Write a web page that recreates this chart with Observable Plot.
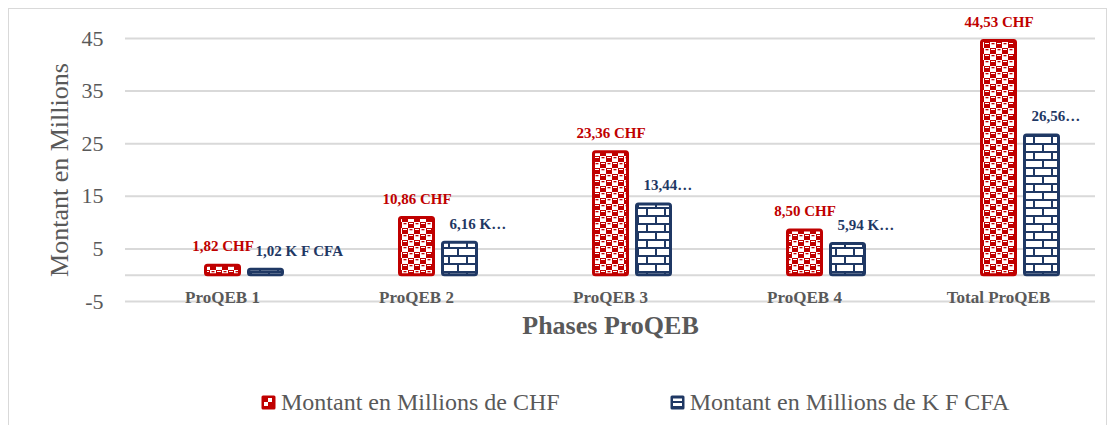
<!DOCTYPE html>
<html>
<head>
<meta charset="utf-8">
<script src="https://cdn.jsdelivr.net/npm/d3@7"></script>
<script src="https://cdn.jsdelivr.net/npm/@observablehq/plot@0.6"></script>
<style>
  html, body { margin: 0; padding: 0; background: #fff; }
  body { width: 1115px; height: 425px; position: relative; overflow: hidden; font-family: "Liberation Serif", "Times New Roman", serif; }
  #frame { position: absolute; left: 8px; top: 8px; width: 1099px; height: 440px; border: 1px solid #D9D9D9; box-sizing: border-box; }
  #chart { position: absolute; left: 0; top: 0; }
  #chart svg text { font-family: "Liberation Serif", "Times New Roman", serif; }
  #legend { position: absolute; top: 389px; left: 261px; display: flex; align-items: center; color: #595959; font-size: 24px; }
  #legend .item { display: flex; align-items: center; }
  #legend svg { margin-right: 5px; }
</style>
</head>
<body>
<div id="frame"></div>
<div id="chart"></div>
<div id="legend"></div>
<script>
// ---- data ----
const categories = ["ProQEB 1", "ProQEB 2", "ProQEB 3", "ProQEB 4", "Total ProQEB"];
const valuesCHF = [1.82, 10.86, 23.36, 8.50, 44.53];
const valuesCFA = [1.02, 6.16, 13.44, 5.94, 26.56];
const labelsCHF = ["1,82 CHF", "10,86 CHF", "23,36 CHF", "8,50 CHF", "44,53 CHF"];
const labelsCFA = ["1,02 K F CFA", "6,16 K…", "13,44…", "5,94 K…", "26,56…"];
const seriesNames = ["Montant en Millions de CHF", "Montant en Millions de K F CFA"];
const yTicks = [-5, 5, 15, 25, 35, 45];
const xTitle = "Phases ProQEB";
const yTitle = "Montant en Millions";

const red = "#C00000", navy = "#1F3864", grey = "#595959", gridC = "#D9D9D9";

const chf = categories.map((c, i) => ({cat: c, v: valuesCHF[i], label: labelsCHF[i]}));
const cfa = categories.map((c, i) => ({cat: c, v: valuesCFA[i], label: labelsCFA[i]}));

const font = "Liberation Serif, Times New Roman, serif";

const plot = Plot.plot({
  width: 1115,
  height: 345,
  marginTop: 38,
  marginBottom: 44,
  marginLeft: 125,
  marginRight: 20,
  style: {fontFamily: font, background: "transparent", overflow: "visible"},
  x: {domain: categories, padding: 0, axis: null},
  y: {domain: [-5, 45], axis: null},
  marks: [
    Plot.ruleY([...yTicks, 0], {stroke: gridC, strokeWidth: 2}),
    Plot.axisY({ticks: yTicks, tickSize: 0, tickPadding: 22, tickFormat: d => String(d),
      label: null, fontSize: 22, fill: grey}),
    Plot.barY(chf, {x: "cat", y: "v", fill: "url(#patRed)", stroke: red, strokeWidth: 3,
      rx: 2, insetLeft: 80.5, insetRight: 79.5}),
    Plot.barY(cfa, {x: "cat", y: "v", fill: "url(#patNavy)", stroke: navy, strokeWidth: 3,
      rx: 2, insetLeft: 123.5, insetRight: 36.5}),
    Plot.text(chf, {x: "cat", y: "v", text: "label", dx: 0.5, dy: -19, fill: red,
      fontWeight: "bold", fontSize: 15, lineAnchor: "middle"}),
    Plot.text(cfa, {x: "cat", y: "v", text: "label", dx: 33, dy: -19, fill: navy,
      textAnchor: "start", fontWeight: "bold", fontSize: 15, lineAnchor: "middle"}),
    Plot.text(categories, {x: d => d, frameAnchor: "bottom", dy: -4, text: d => d,
      fill: grey, fontWeight: "bold", fontSize: 17, lineAnchor: "middle"}),
    Plot.text([xTitle], {frameAnchor: "bottom", dy: 24, text: d => d, fill: grey,
      fontWeight: "bold", fontSize: 26, lineAnchor: "middle"}),
    Plot.text([yTitle], {frameAnchor: "left", dx: -66, rotate: -90, text: d => d, fill: grey,
      fontSize: 26, lineAnchor: "middle", textAnchor: "middle"})
  ]
});

const patternDefs = `
  <pattern id="patRed" patternUnits="userSpaceOnUse" width="12" height="12">
    <rect width="12" height="12" fill="${red}"/>
    <rect x="0" y="0" width="6" height="6" fill="#fff"/>
    <rect x="6" y="6" width="6" height="6" fill="#fff"/>
    <rect x="1.5" y="1" width="3" height="1.3" fill="${red}"/>
    <rect x="7.5" y="7" width="3" height="1.3" fill="${red}"/>
    <rect x="7" y="1" width="4" height="1" fill="#fff"/>
    <rect x="1" y="7" width="4" height="1" fill="#fff"/>
  </pattern>
  <pattern id="patNavy" patternUnits="userSpaceOnUse" width="18" height="16">
    <rect width="18" height="16" fill="${navy}"/>
    <rect x="0" y="1" width="16" height="6" fill="#fff"/>
    <rect x="-9" y="9" width="16" height="6" fill="#fff"/>
    <rect x="9" y="9" width="16" height="6" fill="#fff"/>
  </pattern>`;
d3.select(plot).insert("defs", ":first-child").html(patternDefs);
document.getElementById("chart").appendChild(plot);

// legend
const legend = d3.select("#legend");
const swatch = (sel, fillColor, kind) => {
  const s = sel.append("svg").attr("width", 15).attr("height", 15);
  s.append("rect").attr("x", 0.5).attr("y", 0.5).attr("width", 14).attr("height", 14).attr("rx", 1.5).attr("fill", fillColor);
  if (kind === "red") {
    s.append("rect").attr("x", 7).attr("y", 3).attr("width", 4).attr("height", 4).attr("fill", "#fff");
    s.append("rect").attr("x", 3).attr("y", 7).attr("width", 4).attr("height", 4).attr("fill", "#fff");
  } else {
    s.append("rect").attr("x", 3).attr("y", 3.5).attr("width", 9).attr("height", 2.5).attr("fill", "#fff");
    s.append("rect").attr("x", 3).attr("y", 8).attr("width", 9).attr("height", 3).attr("fill", "#fff");
  }
};
const it1 = legend.append("div").attr("class", "item");
swatch(it1, red, "red");
it1.append("span").text(seriesNames[0]);
const it2 = legend.append("div").attr("class", "item").style("margin-left", "110px");
swatch(it2, navy, "navy");
it2.append("span").text(seriesNames[1]);
</script>
</body>
</html>
